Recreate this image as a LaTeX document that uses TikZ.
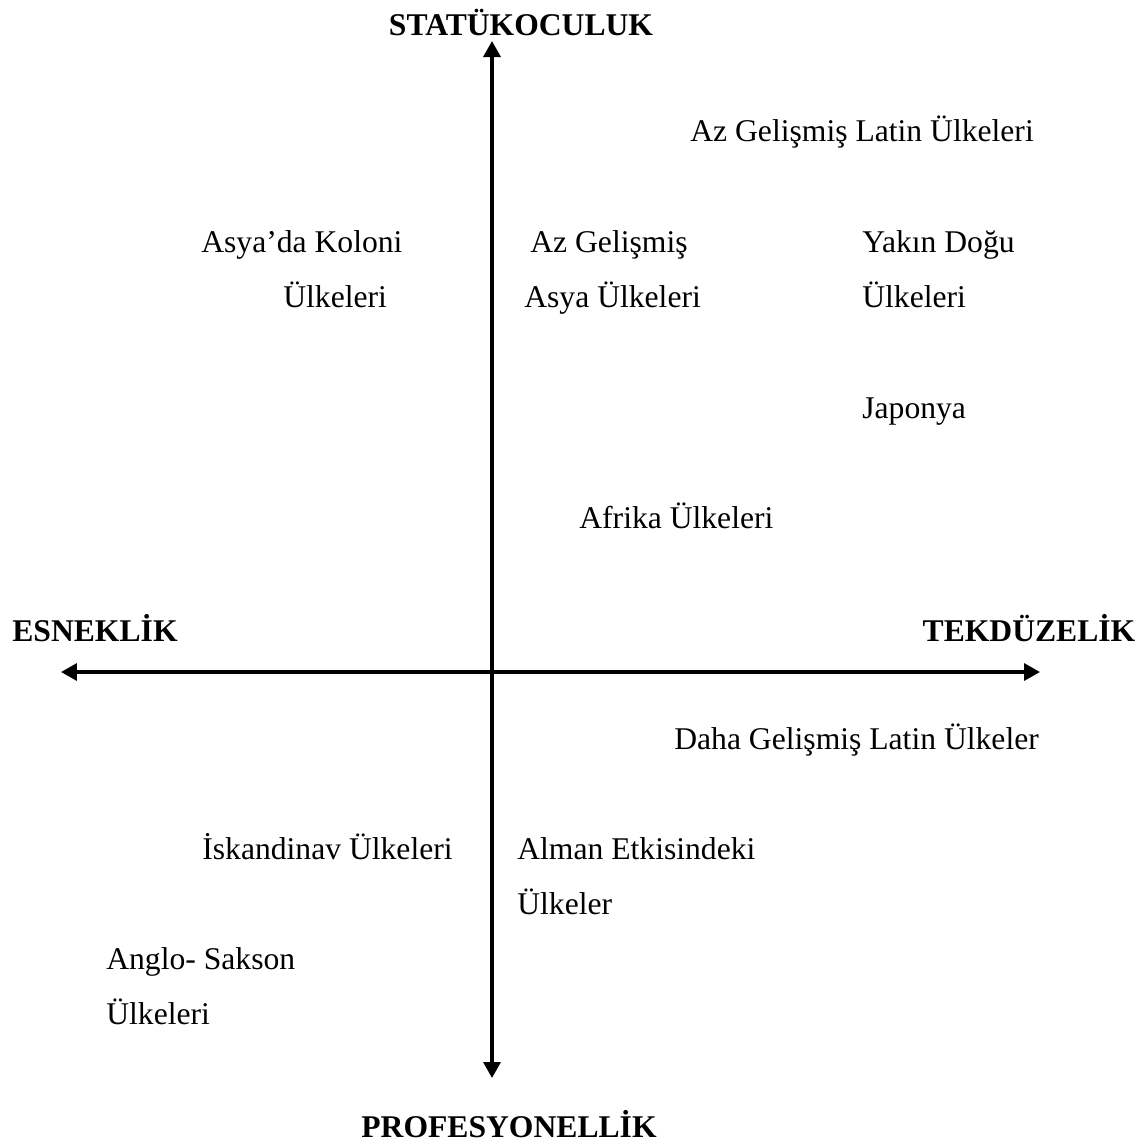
\documentclass[tikz,border=0pt]{standalone}
\usepackage{fontspec}
\setmainfont{Liberation Serif}
\usetikzlibrary{arrows.meta}
\begin{document}
\begin{tikzpicture}[x=0.02cm,y=-0.02cm,
  lbl/.style={anchor=base west,inner sep=0pt,font=\fontsize{18}{20}\selectfont},
  head/.style={anchor=center,inner sep=0pt,font=\fontsize{18}{20}\selectfont\bfseries},
  axis/.style={line width=1.9pt,{Triangle[length=0.32cm,width=0.34cm]}-{Triangle[length=0.32cm,width=0.34cm]}}]
\useasboundingbox (0,0) rectangle (1148,1144);
\coordinate (top) at (492,41);
\coordinate (bot) at (492,1078);
\coordinate (lft) at (61,672);
\coordinate (rgt) at (1040,672);
\draw[axis] (bot) -- (top);
\draw[axis] (lft) -- (rgt);
\node[head] (statu) at (521,22) {STATÜKOCULUK};
\node[head] (esnek) at (95,628) {ESNEKLİK};
\node[head] (tekd) at (1029,628) {TEKDÜZELİK};
\node[head] (prof) at (509,1124) {PROFESYONELLİK};
\node[lbl] (azlatin) at (690,141) {Az Gelişmiş Latin Ülkeleri};
\node[lbl] (asyakol1) at (201,252) {Asya’da Koloni};
\node[lbl] (asyakol2) at (283,307) {Ülkeleri};
\node[lbl] (azasya1) at (530,252) {Az Gelişmiş};
\node[lbl] (azasya2) at (524,307) {Asya Ülkeleri};
\node[lbl] (yakin1) at (862,252) {Yakın Doğu};
\node[lbl] (yakin2) at (862,307) {Ülkeleri};
\node[lbl] (japon) at (862,418) {Japonya};
\node[lbl] (afrika) at (579,528) {Afrika Ülkeleri};
\node[lbl] (dahalatin) at (674,749) {Daha Gelişmiş Latin Ülkeler};
\node[lbl] (iskand) at (202,859) {İskandinav Ülkeleri};
\node[lbl] (alman1) at (517,859) {Alman Etkisindeki};
\node[lbl] (alman2) at (517,914) {Ülkeler};
\node[lbl] (anglo1) at (106,969) {Anglo- Sakson};
\node[lbl] (anglo2) at (106,1024) {Ülkeleri};
\end{tikzpicture}
\end{document}
